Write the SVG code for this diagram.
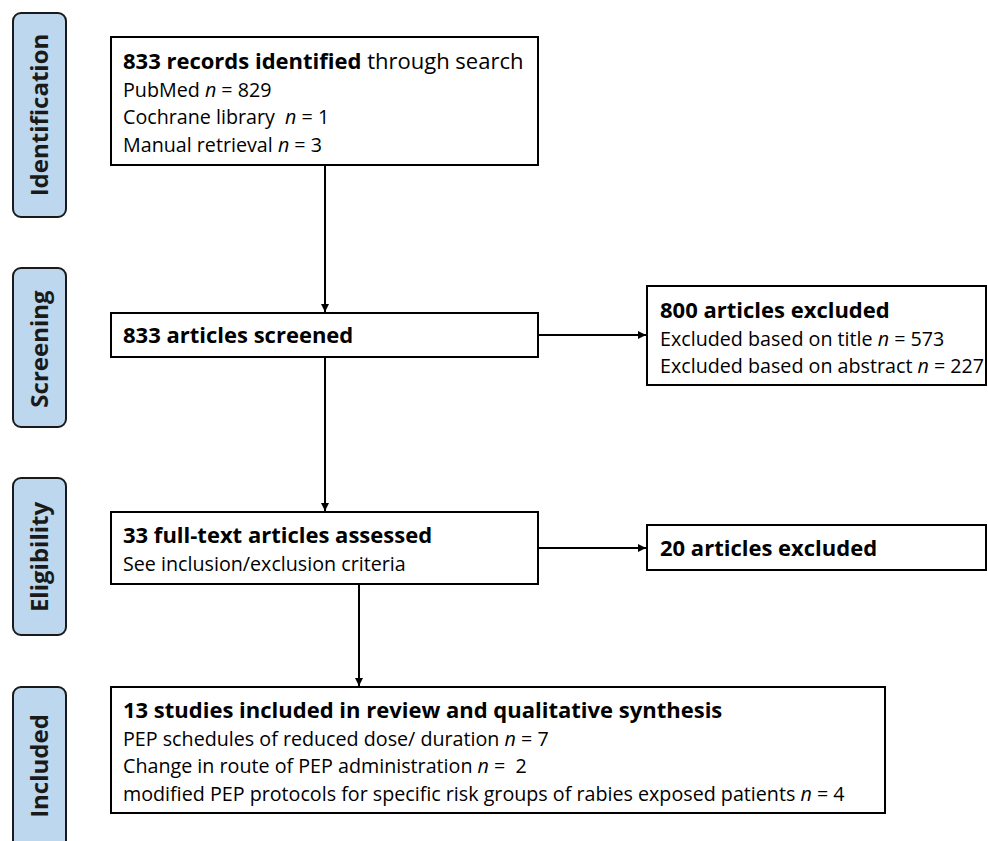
<svg xmlns="http://www.w3.org/2000/svg" width="988" height="841" viewBox="0 0 988 841">
<defs>
<style>
.side{fill:#BDD7EE;stroke:#1a1a1a;stroke-width:2}
.box{fill:#fff;stroke:#000;stroke-width:2}
.t{font-family:"Open Sans","Noto Sans",sans-serif;fill:#000;white-space:pre}
.h{font-size:22px;font-weight:bold}
.b{font-size:19.7px}
.lab{font-family:"Open Sans","Noto Sans",sans-serif;font-size:24px;font-weight:bold;fill:#1a1a1a}
.i{font-style:italic}
.n{font-weight:normal}
.c{fill:none;stroke:#000;stroke-width:2}
</style>
<marker id="ah" viewBox="0 0 10 10" refX="10" refY="5" markerWidth="8" markerHeight="8" markerUnits="userSpaceOnUse" orient="auto">
<path d="M0,0 L10,5 L0,10 z" fill="#000"/>
</marker>
</defs>
<rect width="988" height="841" fill="#fff"/>

<g id="stage-identification">
<rect class="side" x="13" y="13" width="53" height="204" rx="8"/>
<text class="lab" transform="translate(48,115) rotate(-90)" text-anchor="middle">Identification</text>
</g>
<g id="stage-screening">
<rect class="side" x="13" y="268" width="53" height="159" rx="8"/>
<text class="lab" transform="translate(48,349) rotate(-90)" text-anchor="middle">Screening</text>
</g>
<g id="stage-eligibility">
<rect class="side" x="13" y="478" width="53" height="157" rx="8"/>
<text class="lab" transform="translate(48,557) rotate(-90)" text-anchor="middle">Eligibility</text>
</g>
<g id="stage-included">
<rect class="side" x="13" y="687" width="53" height="170" rx="8"/>
<text class="lab" transform="translate(48,766) rotate(-90)" text-anchor="middle">Included</text>
</g>

<g id="node-identified">
<rect class="box" x="111" y="37" width="427" height="128"/>
<text class="t h" x="123" y="69">833 records identified<tspan class="n"> through search</tspan></text>
<text class="t b" x="123" y="97">PubMed <tspan class="i">n</tspan> = 829</text>
<text class="t b" x="123" y="124">Cochrane library  <tspan class="i">n</tspan> = 1</text>
<text class="t b" x="123" y="152">Manual retrieval <tspan class="i">n</tspan> = 3</text>
</g>

<g id="node-screened">
<rect class="box" x="111" y="313" width="427" height="44"/>
<text class="t h" x="123" y="343">833 articles screened</text>
</g>

<g id="node-excluded800">
<rect class="box" x="647" y="286" width="339" height="99"/>
<text class="t h" x="660" y="318">800 articles excluded</text>
<text class="t b" x="660" y="346">Excluded based on title <tspan class="i">n</tspan> = 573</text>
<text class="t b" x="660" y="373">Excluded based on abstract <tspan class="i">n</tspan> = 227</text>
</g>

<g id="node-assessed">
<rect class="box" x="111" y="512" width="427" height="72"/>
<text class="t h" x="123" y="543">33 full-text articles assessed</text>
<text class="t b" x="123" y="571">See inclusion/exclusion criteria</text>
</g>

<g id="node-excluded20">
<rect class="box" x="647" y="525" width="339" height="45"/>
<text class="t h" x="660" y="556">20 articles excluded</text>
</g>

<g id="node-included">
<rect class="box" x="111" y="687" width="774" height="126"/>
<text class="t h" x="123" y="718">13 studies included in review and qualitative synthesis</text>
<text class="t b" x="123" y="746">PEP schedules of reduced dose/ duration <tspan class="i">n</tspan> = 7</text>
<text class="t b" x="123" y="773">Change in route of PEP administration <tspan class="i">n</tspan> =  2</text>
<text class="t b" x="123" y="801">modified PEP protocols for specific risk groups of rabies exposed patients <tspan class="i">n</tspan> = 4</text>
</g>

<g id="connectors">
<line class="c" x1="325" y1="165" x2="325" y2="312" marker-end="url(#ah)"/>
<line class="c" x1="538" y1="335" x2="646" y2="335" marker-end="url(#ah)"/>
<line class="c" x1="325" y1="357" x2="325" y2="511" marker-end="url(#ah)"/>
<line class="c" x1="538" y1="548" x2="646" y2="548" marker-end="url(#ah)"/>
<line class="c" x1="359" y1="584" x2="359" y2="686" marker-end="url(#ah)"/>
</g>
</svg>
